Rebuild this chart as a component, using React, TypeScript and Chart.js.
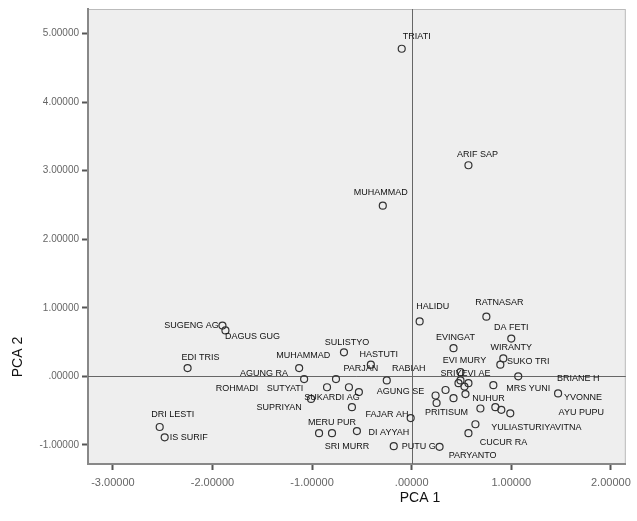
import React, { useEffect, useRef } from "react";
import { Chart, registerables } from "chart.js";

Chart.register(...registerables);

// ---- data ----
const names = [
  "TRIATI", "ARIF SAP", "MUHAMMAD", "HALIDU", "RATNASAR", "DA FETI", "EVINGAT", "WIRANTY",
  "EVI MURY", "SUKO TRI", "SRIYEVI AE", "BRIANE H", "MRS YUNI", "YVONNE", "AGUNG SE", "NUHUR",
  "PRITISUM", "AYU PUPU", "YULIASTURIYAVITNA", "CUCUR RA", "PARYANTO", "PUTU G", "DI AYYAH",
  "FAJAR AH", "SRI MURR", "MERU PUR", "PARJAN", "RABIAH", "HASTUTI", "SULISTYO", "MUHAMMAD",
  "AGUNG RA", "ROHMADI", "SUTYATI", "SUKARDI AG", "SUPRIYAN", "SUGENG AG", "DAGUS GUG",
  "EDI TRIS", "DRI LESTI", "IS SURIF", "", "", "", "", "", "", "", "", "",
];
const pca1 = [
  -0.10, 0.57, -0.29, 0.08, 0.75, 1.00, 0.42, 0.92,
  0.49, 0.89, 0.57, 1.07, 0.82, 1.47, 0.24, 0.54,
  0.69, 0.99, 0.64, 0.57, 0.28, -0.18, -0.55,
  -0.60, -0.80, -0.93, -0.63, -0.25, -0.41, -0.68, -1.13,
  -1.08, -0.85, -0.76, -0.53, -1.01, -1.90, -1.87,
  -2.25, -2.53, -2.48, -0.01, 0.34, 0.42, 0.25, 0.84, 0.90, 0.49, 0.47, 0.53,
];
const pca2 = [
  4.78, 3.08, 2.49, 0.80, 0.87, 0.55, 0.41, 0.26,
  0.06, 0.17, -0.10, 0.00, -0.13, -0.25, -0.28, -0.26,
  -0.47, -0.54, -0.70, -0.83, -1.03, -1.02, -0.80,
  -0.45, -0.83, -0.83, -0.16, -0.06, 0.17, 0.35, 0.12,
  -0.04, -0.16, -0.04, -0.23, -0.33, 0.74, 0.67,
  0.12, -0.74, -0.89, -0.61, -0.20, -0.32, -0.39, -0.45, -0.49, -0.06, -0.10, -0.15,
];
const xTickValues = [-3, -2, -1, 0, 1, 2];
const yTickValues = [-1, 0, 1, 2, 3, 4, 5];

// ---- label placement (pixels relative to marker) ----
const labelDx = [
  15, 9, -2, 13, 13, 0, 2, 8,
  4, 28, -3, 60, 35, 25, -35, 23,
  -34, 71, 61, 35, 33, 25, 32,
  35, 15, 13, 12, 22, 8, 3, 4,
  -40, -90, -51, -27, -32, -31, 27,
  13, 13, 24, 0, 0, 0, 0, 0, 0, 0, 0, 0,
];
const labelDy = [
  -12, -11, -13, -15, -14, -11, -11, -11,
  -12, -3, -10, 2, 3, 4, -4, 4,
  4, -1, 3, 9, 9, 0, 1,
  7, 13, -11, -19, -12, -10, -10, -13,
  -6, 1, 9, 5, 9, 0, 6,
  -11, -12, 0, 0, 0, 0, 0, 0, 0, 0, 0, 0,
];

const FONT = 'Arial, "Liberation Sans", sans-serif';

const fmt = (v: number) => (v === 0 ? ".00000" : v.toFixed(5));

const decorPlugin = {
  id: "decor",
  beforeDraw(chart: any) {
    const { ctx, chartArea } = chart;
    ctx.save();
    ctx.fillStyle = "#EEEEEE";
    ctx.fillRect(chartArea.left, chartArea.top, chartArea.right - chartArea.left, chartArea.bottom - chartArea.top);
    ctx.strokeStyle = "#BBBBBB";
    ctx.lineWidth = 1;
    ctx.strokeRect(chartArea.left + 0.5, chartArea.top + 0.5, chartArea.right - chartArea.left - 1, chartArea.bottom - chartArea.top - 1);
    ctx.restore();
  },
  beforeDatasetsDraw(chart: any) {
    const { ctx, chartArea, scales } = chart;
    const x0 = Math.round(scales.x.getPixelForValue(0)) + 0.5;
    const y0 = Math.round(scales.y.getPixelForValue(0)) + 0.5;
    ctx.save();
    ctx.strokeStyle = "#666666";
    ctx.lineWidth = 1;
    ctx.beginPath();
    ctx.moveTo(x0, chartArea.top);
    ctx.lineTo(x0, chartArea.bottom);
    ctx.moveTo(chartArea.left, y0);
    ctx.lineTo(chartArea.right, y0);
    ctx.stroke();
    ctx.restore();
  },
  afterDatasetsDraw(chart: any) {
    const { ctx } = chart;
    const meta = chart.getDatasetMeta(0);
    ctx.save();
    ctx.font = `9px ${FONT}`;
    ctx.fillStyle = "#111111";
    ctx.textAlign = "center";
    ctx.textBaseline = "middle";
    meta.data.forEach((pt: any, i: number) => {
      const name = names[i];
      if (!name) return;
      ctx.fillText(name, pt.x + labelDx[i], pt.y + labelDy[i]);
    });
    ctx.restore();
  },
  afterDraw(chart: any) {
    const { ctx } = chart;
    ctx.save();
    ctx.fillStyle = "#111111";
    ctx.font = `14px ${FONT}`;
    ctx.textAlign = "center";
    ctx.textBaseline = "middle";
    ctx.fillText("PCA 1", 420, 498);
    ctx.translate(18, 357);
    ctx.rotate(-Math.PI / 2);
    ctx.fillText("PCA 2", 0, 0);
    ctx.restore();
  },
};

export default function App() {
  const ref = useRef<HTMLCanvasElement | null>(null);
  useEffect(() => {
    if (!ref.current) return;
    const points = pca1.map((x, i) => ({ x, y: pca2[i] }));
    const chart = new Chart(ref.current, {
      type: "scatter",
      data: {
        datasets: [
          {
            data: points,
            pointStyle: "circle",
            pointRadius: 3.5,
            pointBorderWidth: 1.2,
            pointBorderColor: "#333333",
            pointBackgroundColor: "rgba(0,0,0,0)",
          },
        ],
      },
      options: {
        animation: false,
        responsive: true,
        maintainAspectRatio: false,
        layout: { padding: { top: 7, right: 9, left: 0, bottom: 0 } },
        plugins: { legend: { display: false }, tooltip: { enabled: false } },
        scales: {
          x: {
            type: "linear",
            min: -3.25,
            max: 2.15,
            afterBuildTicks: (s: any) => {
              s.ticks = xTickValues.map((v) => ({ value: v }));
            },
            afterFit: (s: any) => {
              s.height = 57;
            },
            grid: { drawOnChartArea: false, drawTicks: true, tickLength: 6, color: "#555555", tickWidth: 2 },
            border: { display: true, color: "#888888", width: 2 },
            ticks: {
              color: "#666666",
              font: { size: 11, family: FONT },
              padding: 6,
              maxRotation: 0,
              callback: (v: any) => fmt(Number(v)),
            },
          },
          y: {
            type: "linear",
            min: -1.28,
            max: 5.36,
            afterBuildTicks: (s: any) => {
              s.ticks = yTickValues.map((v) => ({ value: v }));
            },
            afterFit: (s: any) => {
              s.width = 88;
            },
            grid: { drawOnChartArea: false, drawTicks: true, tickLength: 6, color: "#555555", tickWidth: 2 },
            border: { display: true, color: "#888888", width: 2 },
            ticks: {
              color: "#666666",
              font: { size: 10, family: FONT },
              padding: 3,
              callback: (v: any) => fmt(Number(v)),
            },
          },
        },
      },
      plugins: [decorPlugin],
    });
    return () => chart.destroy();
  }, []);
  return (
    <div style={{ position: "fixed", left: 0, top: 0, width: 637, height: 521, background: "#fff" }}>
      <canvas ref={ref} />
    </div>
  );
}
